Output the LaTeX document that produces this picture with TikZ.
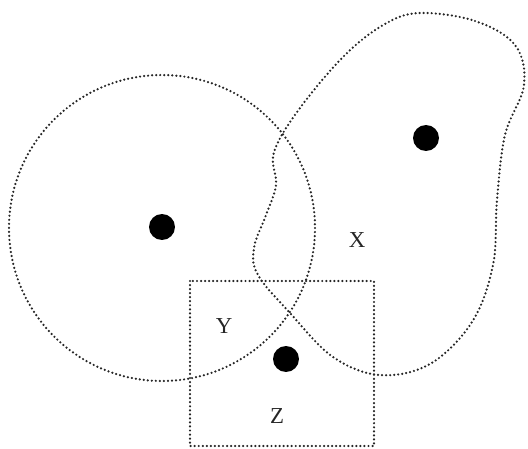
\documentclass[tikz,border=0pt]{standalone}
\usepackage{fontspec}
\setmainfont{Liberation Serif}
\begin{document}
\begin{tikzpicture}[
    x=0.02cm, y=-0.02cm,
    region/.style={draw=black!85, line width=1.4pt, line cap=round, dash pattern=on 0pt off 2.3pt},
    site/.style={circle, fill=black, inner sep=0pt, minimum size=0.52cm},
    tag/.style={font=\fontsize{13}{15}\selectfont, text=black!85, inner sep=0pt}
]
\useasboundingbox (0,0) rectangle (528,449);

% Circular region round the left site
\draw[region] (162,228) circle (153);

% Irregular region round the upper right site
\draw[region] plot[smooth cycle, tension=0.6] coordinates {
    (420,13) (475,21) (515,45) (524,85) (505,135) (497,200) (493,265)
    (472,322) (430,364) (380,375) (333,357) (290,313) (258,275) (254,248)
    (266,215) (276,185) (274,152) (300,108) (345,55) (385,24)};

% Square region at the bottom
\draw[region] (190,281) rectangle (374,446);

% Sites
\node[site] (left)  at (162,227) {};
\node[site] (right) at (426,138) {};
\node[site] (low)   at (286,359) {};

% Labels
\node[tag] (x) at (357,240) {X};
\node[tag] (y) at (224,326) {Y};
\node[tag] (z) at (277,416) {Z};

\end{tikzpicture}
\end{document}
